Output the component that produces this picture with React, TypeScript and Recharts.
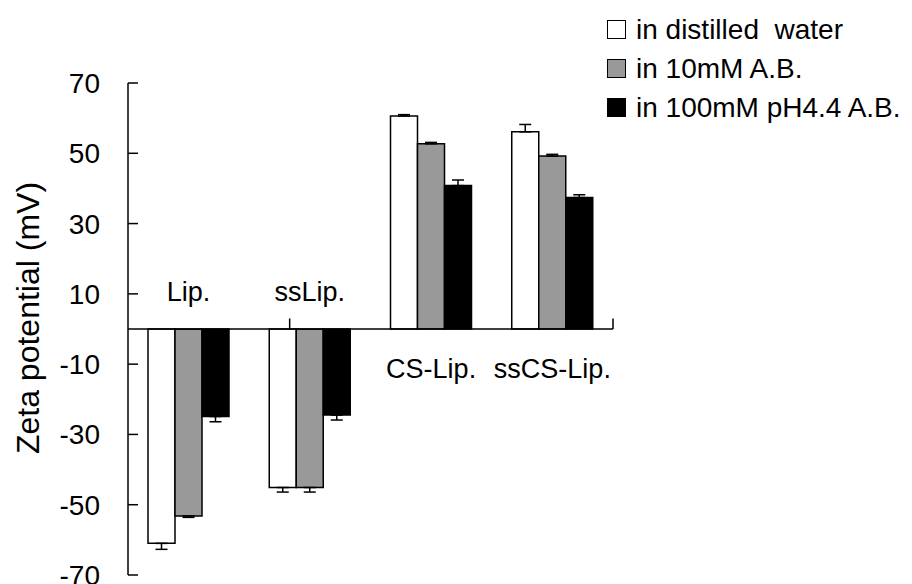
import React from 'react';
import {
  Bar,
  BarChart,
  ErrorBar,
  Legend,
  ReferenceDot,
  ReferenceLine,
  XAxis,
  YAxis
} from 'recharts';

const FONT = '"Liberation Sans", Arial, sans-serif';

// values
const categories = ['Lip.', 'ssLip.', 'CS-Lip.', 'ssCS-Lip.'];
const seriesNames = ['in distilled  water', 'in 10mM A.B.', 'in 100mM pH4.4 A.B.'];
const distilledWater = [-61.0, -45.1, 60.6, 56.1];
const ab10 = [-53.2, -45.1, 52.7, 49.2];
const ab100 = [-24.9, -24.5, 40.8, 37.4];
const errDistilled = [1.7, 1.3, 0.4, 2.1];
const errAb10 = [0.4, 1.3, 0.4, 0.5];
const errAb100 = [1.5, 1.4, 1.6, 0.8];
const yTicks = [-70, -50, -30, -10, 10, 30, 50, 70];
const boundaries = [1, 2, 3, 4];

const FILLS = ['#ffffff', '#999999', '#000000'];

// error bars only point away from zero
const oneSided = (v: number, e: number) => (v < 0 ? [e, 0] : [0, e]);

const data = categories.map((name, i) => ({
  name,
  s0: distilledWater[i],
  s1: ab10[i],
  s2: ab100[i],
  e0: oneSided(distilledWater[i], errDistilled[i]),
  e1: oneSided(ab10[i], errAb10[i]),
  e2: oneSided(ab100[i], errAb100[i])
}));

const renderLegend = () => (
  <div style={{ fontFamily: FONT, fontSize: 28, color: '#000' }}>
    {seriesNames.map((n, i) => (
      <div key={n} style={{ display: 'flex', alignItems: 'center', height: 39, whiteSpace: 'pre' }}>
        <span
          style={{
            display: 'inline-block',
            width: 17,
            height: 17,
            border: '1.5px solid #000',
            background: FILLS[i],
            marginRight: 10
          }}
        />
        {n}
      </div>
    ))}
  </div>
);

export default function App() {
  return (
    <div style={{ position: 'absolute', left: 0, top: 0 }}>
      <BarChart
        width={912}
        height={584}
        data={data}
        margin={{ top: 83, right: 299, bottom: 9, left: 0 }}
        barSize={27}
        barGap={0}
      >
        <XAxis dataKey="name" hide />
        <XAxis xAxisId="grid" type="number" domain={[0, 4]} hide />
        <YAxis
          width={128}
          domain={[-70, 70]}
          ticks={yTicks}
          interval={0}
          axisLine={{ stroke: '#000', strokeWidth: 1.5 }}
          tickLine={{ stroke: '#000', strokeWidth: 1.5 }}
          tickSize={-10}
          tickMargin={38}
          tick={{ fill: '#000', fontSize: 28, fontFamily: FONT }}
          label={{
            value: 'Zeta potential (mV)',
            angle: -90,
            position: 'center',
            dx: -36,
            dy: -11,
            style: { fill: '#000', fontSize: 32, fontFamily: FONT }
          }}
        />
        <Legend
          layout="vertical"
          align="center"
          verticalAlign="middle"
          content={renderLegend}
          wrapperStyle={{ top: 10, left: 607, width: 305 }}
        />
        {['s0', 's1', 's2'].map((key, i) => (
          <Bar
            key={key}
            dataKey={key}
            name={seriesNames[i]}
            fill={FILLS[i]}
            stroke="#000"
            strokeWidth={1.5}
            isAnimationActive={false}
          >
            <ErrorBar dataKey={`e${i}`} width={6} stroke="#000" strokeWidth={1.5} direction="y" />
          </Bar>
        ))}
        <ReferenceLine y={0} stroke="#000" strokeWidth={1.5} />
        {boundaries.map((b) => (
          <ReferenceLine
            key={b}
            xAxisId="grid"
            segment={[{ x: b, y: 0 }, { x: b, y: 3 }]}
            stroke="#000"
            strokeWidth={1.5}
          />
        ))}
        {categories.map((c, i) => (
          <ReferenceDot
            key={c}
            x={c}
            y={0}
            r={0}
            stroke="none"
            label={{
              value: c,
              position: distilledWater[i] < 0 ? 'top' : 'bottom',
              offset: distilledWater[i] < 0 ? 28 : 30,
              fill: '#000',
              fontSize: 27,
              fontFamily: FONT
            }}
          />
        ))}
      </BarChart>
    </div>
  );
}
